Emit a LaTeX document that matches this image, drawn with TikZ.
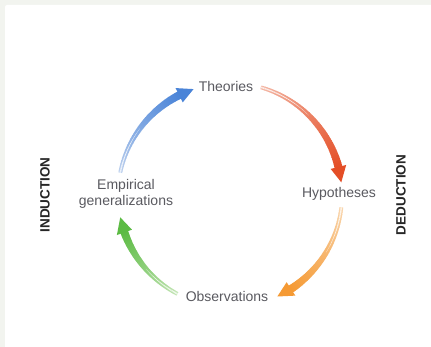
\documentclass[tikz,border=0pt]{standalone}
\usepackage{fontspec}
\setmainfont{Liberation Sans}
\usetikzlibrary{calc}
\definecolor{bgc}{HTML}{F2F4EF}
\definecolor{txt}{HTML}{5A5A60}
\definecolor{blueD}{HTML}{4A84D8}
\definecolor{blueL}{HTML}{BCD0EE}
\definecolor{redD}{HTML}{E44E26}
\definecolor{redL}{HTML}{F4B8A6}
\definecolor{oraD}{HTML}{F59A34}
\definecolor{oraL}{HTML}{F9D6AE}
\definecolor{grnD}{HTML}{5CBB44}
\definecolor{grnL}{HTML}{C4E6B6}
\tikzset{
  lbl/.style={text=txt, font=\fontsize{14}{16.5}\selectfont, inner sep=1pt, align=center},
  side/.style={text=black!85, font=\bfseries\fontsize{13.5}{15}\selectfont, rotate=90, inner sep=0pt}
}
% #1 start angle, #2 band end angle, #3 tip angle, #4 dark colour, #5 light colour
\newcommand\tarrow[5]{%
  \foreach \i in {0,...,59}{%
    \pgfmathsetmacro\ta{#1+(#2-(#1))*\i/60}%
    \pgfmathsetmacro\tb{#1+(#2-(#1))*(\i+1.4)/60}%
    \pgfmathsetmacro\w{3.8+4.2*(\i/60)^1.4}%
    \pgfmathtruncatemacro\m{100*(\i/60)^0.9}%
    \draw[line width=\w pt, #4!\m!#5] ($(C)+(\ta:112pt)$) arc[start angle=\ta, end angle=\tb, radius=112pt];
    \pgfmathsetmacro\wi{max(0,1.5*(1-\i/30))}%
    \ifdim\wi pt>0.05pt
      \draw[line width=\wi pt, white!75!#5] ($(C)+(\ta:112pt)$) arc[start angle=\ta, end angle=\tb, radius=112pt];
    \fi
  }%
  \fill[#4] ($(C)+(#2:120pt)$) -- ($(C)+(#3:112pt)$) -- ($(C)+(#2:104pt)$) -- cycle;
}
\begin{document}
\begin{tikzpicture}[x=1pt,y=1pt]
  \useasboundingbox (0,0) rectangle (431,347);
  \fill[bgc] (0,0) rectangle (431,347);
  \fill[white, rounded corners=2pt] (5,-5) rectangle (436,342);
  \coordinate (C) at (230,152);

  \node[lbl] (theo) at (226,260) {Theories};
  \node[lbl] (hyp) at (339,153) {Hypotheses};
  \node[lbl] (obs) at (227,50) {Observations};
  \node[lbl] (emp) at (126,153) {Empirical\\generalizations};
  \node[side] (ind) at (45,152) {INDUCTION};
  \node[side] (ded) at (401,152) {DEDUCTION};

  \tarrow{168.5}{117}{109}{blueD}{blueL}
  \tarrow{74}{14.5}{6.5}{redD}{redL}
  \tarrow{-6.3}{-57}{-65}{oraD}{oraL}
  \tarrow{-118}{-160.5}{-168.5}{grnD}{grnL}
\end{tikzpicture}
\end{document}
